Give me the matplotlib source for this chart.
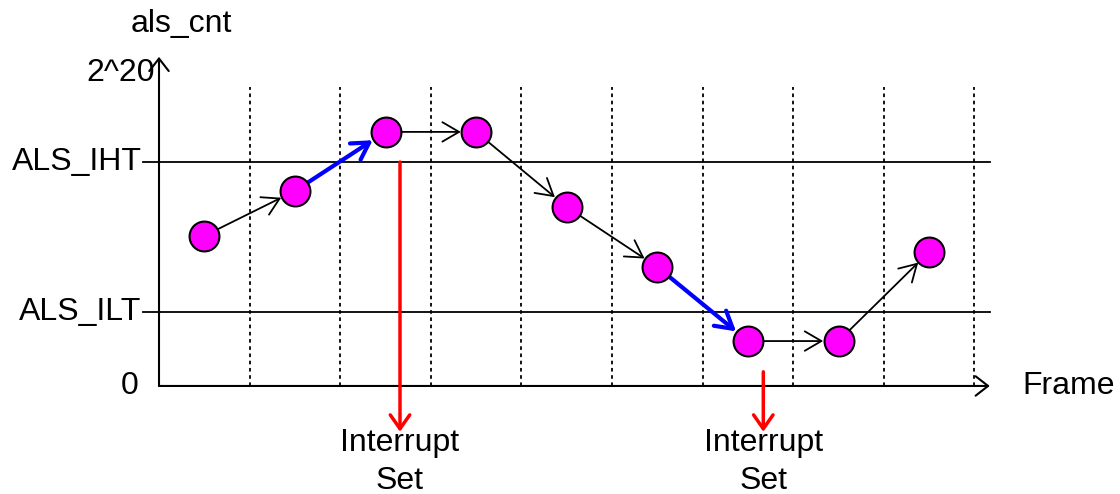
import matplotlib.pyplot as plt

plt.rcParams['font.family'] = ['Liberation Sans', 'DejaVu Sans']

# frame centres and als_cnt values (in units of 2^20)
frames = [0.5, 1.5, 2.5, 3.5, 4.5, 5.5, 6.5, 7.5, 8.5]
als_cnt = [0.478, 0.621, 0.809, 0.809, 0.570, 0.379, 0.143, 0.143, 0.427]
blue_steps = [1, 5]  # step i goes from point i to point i+1

als_iht = 0.713
als_ilt = 0.236
frame_edges = [1, 2, 3, 4, 5, 6, 7, 8, 9]

interrupt_x = [2.66, 6.67]
interrupt_from = [0.713, 0.045]
interrupt_to = -0.146

fig = plt.figure(figsize=(11.2, 4.94), dpi=100)
ax = fig.add_axes([0, 0, 1, 1])
ax.set_xlim(-1.755, 10.607)
ax.set_ylim(-0.344, 1.229)
ax.axis('off')

fs = 23

# frame boundaries
for x in frame_edges:
    ax.plot([x, x], [0, 0.952], color='black', ls=(0, (2, 2)), lw=1.3)

# thresholds
for y in (als_iht, als_ilt):
    ax.plot([-0.177, 9.17], [y, y], color='black', lw=1.3)

# axes arrows
axis_arrow = dict(arrowstyle='->,head_length=0.45,head_width=0.35', color='black',
                  lw=1.5, mutation_scale=20, shrinkA=0, shrinkB=0)
ax.annotate('', xy=(0, 1.048), xytext=(0, 0), arrowprops=axis_arrow)
ax.annotate('', xy=(9.17, 0), xytext=(0, 0), arrowprops=axis_arrow)

# steps between samples
for i in range(len(frames) - 1):
    blue = i in blue_steps
    ax.annotate('', xy=(frames[i + 1], als_cnt[i + 1]), xytext=(frames[i], als_cnt[i]),
                arrowprops=dict(arrowstyle='->,head_length=0.6,head_width=0.35',
                                color='blue' if blue else 'black',
                                lw=3 if blue else 1.3, mutation_scale=20,
                                shrinkA=11, shrinkB=11), zorder=2)

ax.plot(frames, als_cnt, ls='none', marker='o', ms=21.5, mfc='magenta',
        mec='black', mew=1.5, zorder=3)

# interrupts
for x, y0 in zip(interrupt_x, interrupt_from):
    ax.annotate('', xy=(x, interrupt_to), xytext=(x, y0),
                arrowprops=dict(arrowstyle='->,head_length=0.5,head_width=0.35',
                                color='red', lw=2.5, mutation_scale=20,
                                shrinkA=0, shrinkB=0))
    ax.text(x, -0.134, 'Interrupt\nSet', ha='center', va='top', fontsize=fs,
            linespacing=1.35)

ax.text(0.243, 1.153, 'als_cnt', ha='center', va='center', fontsize=fs)
ax.text(-0.044, 0.995, '2^20', ha='right', va='center', fontsize=fs)
ax.text(-0.19, als_iht, 'ALS_IHT', ha='right', va='center', fontsize=fs)
ax.text(-0.19, als_ilt, 'ALS_ILT', ha='right', va='center', fontsize=fs)
ax.text(-0.23, 0, '0', ha='right', va='center', fontsize=fs)
ax.text(9.525, 0, 'Frame', ha='left', va='center', fontsize=fs)

fig.savefig('out.png', dpi=100)
